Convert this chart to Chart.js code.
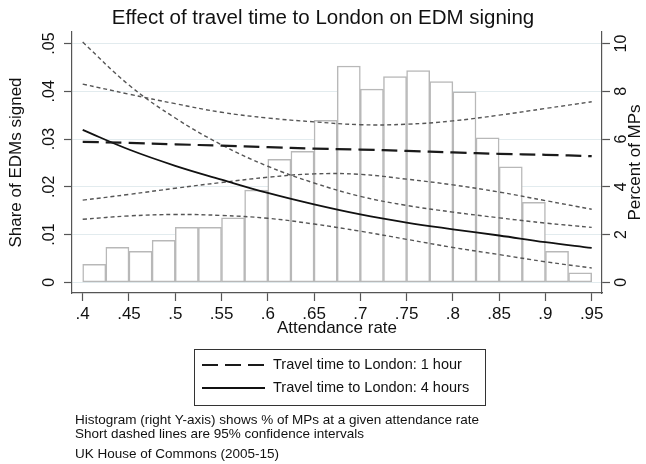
<!DOCTYPE html>
<html><head><meta charset="utf-8">
<script src="https://cdn.jsdelivr.net/npm/chart.js@4.4.1/dist/chart.umd.min.js"></script>
<style>html,body{margin:0;padding:0;background:#fff}#wrap{width:646px;height:464px}</style>
</head><body><div id="wrap"><canvas id="c" width="646" height="464"></canvas></div>
<script>
// ---- data ----
const xGrid = [0.40,0.45,0.50,0.55,0.60,0.65,0.70,0.75,0.80,0.85,0.90,0.95];
const fit1h  = [0.0294,0.0292,0.0289,0.0286,0.0283,0.0280,0.0278,0.0275,0.0272,0.0269,0.0267,0.0264];
const ci1hHi = [0.0415,0.0394,0.0374,0.0356,0.0344,0.0336,0.0330,0.0331,0.0338,0.0350,0.0364,0.0378];
const ci1hLo = [0.0172,0.0184,0.0197,0.0209,0.0220,0.0227,0.0226,0.0216,0.0204,0.0189,0.0171,0.0153];
const fit4h  = [0.0319,0.0278,0.0244,0.0215,0.0187,0.0163,0.0142,0.0125,0.0111,0.0098,0.0084,0.0072];
const ci4hHi = [0.0503,0.0413,0.0344,0.0288,0.0243,0.0208,0.0180,0.0161,0.0147,0.0135,0.0124,0.0115];
const ci4hLo = [0.0132,0.0139,0.0142,0.0140,0.0134,0.0122,0.0107,0.0090,0.0073,0.0058,0.0043,0.0030];
const binCenters = [0.4125,0.4375,0.4625,0.4875,0.5125,0.5375,0.5625,0.5875,0.6125,0.6375,0.6625,
                    0.6875,0.7125,0.7375,0.7625,0.7875,0.8125,0.8375,0.8625,0.8875,0.9125,0.9375];
const histPercent = [0.75,1.46,1.30,1.76,2.30,2.30,2.70,3.86,5.15,5.48,6.78,
                     9.06,8.09,8.62,8.87,8.41,7.98,6.05,4.84,3.35,1.30,0.40];
const xTickValues = [0.40,0.45,0.50,0.55,0.60,0.65,0.70,0.75,0.80,0.85,0.90,0.95];
const xTickLabels = ['.4','.45','.5','.55','.6','.65','.7','.75','.8','.85','.9','.95'];
const yTickValues = [0,0.01,0.02,0.03,0.04,0.05];
const yTickLabels = ['0','.01','.02','.03','.04','.05'];
const y2TickValues = [0,2,4,6,8,10];
const y2TickLabels = ['0','2','4','6','8','10'];
const legendLabels = ['Travel time to London: 1 hour','Travel time to London: 4 hours'];
const notes = ['Histogram (right Y-axis) shows % of MPs at a given attendance rate',
               'Short dashed lines are 95% confidence intervals',
               'UK House of Commons (2005-15)'];

const FONT = "'Liberation Sans', Arial, Helvetica, sans-serif";
Chart.defaults.font.family = FONT;
Chart.defaults.color = '#111';

const xy = (xs, ys) => xs.map((x, i) => ({x: x, y: ys[i]}));
const AX = '#555';
const ciStyle = {type:'line', yAxisID:'y', borderColor:'#555', borderWidth:1.4, borderDash:[4,3],
  pointRadius:0, tension:0.4, fill:false, order:1};

const datasets = [
  {type:'line', label:legendLabels[0], data:xy(xGrid, fit1h), yAxisID:'y', borderColor:'#1a1a1a',
   borderWidth:2.2, borderDash:[16,7], pointRadius:0, tension:0.4, order:0, legend:true},
  {type:'line', label:legendLabels[1], data:xy(xGrid, fit4h), yAxisID:'y', borderColor:'#111',
   borderWidth:1.8, borderDash:[], pointRadius:0, tension:0.4, order:0, legend:true},
  Object.assign({label:'ci1hHi', data:xy(xGrid, ci1hHi)}, ciStyle),
  Object.assign({label:'ci1hLo', data:xy(xGrid, ci1hLo)}, ciStyle),
  Object.assign({label:'ci4hHi', data:xy(xGrid, ci4hHi)}, ciStyle),
  Object.assign({label:'ci4hLo', data:xy(xGrid, ci4hLo)}, ciStyle),
  {type:'bar', label:'Percent of MPs', data:xy(binCenters, histPercent), yAxisID:'y2',
   backgroundColor:'#ffffff', borderColor:'#b8b8b8', borderWidth:1.5, borderSkipped:false,
   barPercentage:1, categoryPercentage:1, order:10}
];

const extras = {
  id:'extras',
  afterDraw(chart) {
    const ctx = chart.ctx, ca = chart.chartArea;
    ctx.save();
    // right axis title (reads bottom-to-top)
    ctx.fillStyle = '#111';
    ctx.font = '17px ' + FONT;
    ctx.textAlign = 'center'; ctx.textBaseline = 'middle';
    ctx.translate(635, (ca.top + ca.bottom) / 2);
    ctx.rotate(-Math.PI / 2);
    ctx.fillText(chart.options.scales.y2.titleText, 0, 0);
    ctx.restore();

    // legend box
    ctx.save();
    ctx.strokeStyle = '#333'; ctx.lineWidth = 1;
    ctx.strokeRect(194.5, 349.5, 291, 56);
    const items = chart.data.datasets.filter(d => d.legend);
    const ys = [365, 388];
    items.forEach((d, i) => {
      ctx.beginPath();
      ctx.setLineDash(d.borderDash || []);
      ctx.strokeStyle = d.borderColor; ctx.lineWidth = d.borderWidth;
      ctx.moveTo(202, ys[i]); ctx.lineTo(265, ys[i]); ctx.stroke();
      ctx.setLineDash([]);
      ctx.fillStyle = '#111'; ctx.font = '14.5px ' + FONT;
      ctx.textAlign = 'left'; ctx.textBaseline = 'middle';
      ctx.fillText(d.label, 273, ys[i]);
    });
    // notes
    ctx.font = '13.5px ' + FONT;
    const ny = [420, 434, 454];
    notes.forEach((t, i) => ctx.fillText(t, 75, ny[i]));
    ctx.restore();
  }
};

new Chart(document.getElementById('c'), {
  type:'bar',
  data:{datasets:datasets},
  plugins:[extras],
  options:{
    responsive:false, animation:false, devicePixelRatio:1,
    layout:{padding:{top:0,left:0,right:0,bottom:128}},
    plugins:{
      legend:{display:false}, tooltip:{enabled:false},
      title:{display:true, text:'Effect of travel time to London on EDM signing', color:'#111',
        font:{size:20.5, weight:'normal', lineHeight:1.2}, padding:{top:6,bottom:1.4}}
    },
    scales:{
      x:{type:'linear', min:0.38844, max:0.96113, offset:false,
        afterBuildTicks:s => { s.ticks = xTickValues.map(v => ({value:v})); },
        afterFit:s => { s.height = 43; },
        ticks:{autoSkip:false, minRotation:0, maxRotation:0, padding:3, font:{size:17}, color:'#111',
          callback:(v, i) => xTickLabels[i]},
        grid:{drawOnChartArea:false, drawTicks:true, tickLength:8, tickColor:AX, tickWidth:1.2, offset:false},
        border:{display:true, color:AX, width:1.2},
        title:{display:true, text:'Attendance rate', color:'#111', font:{size:17, lineHeight:1}, padding:{top:0,bottom:-1}}
      },
      y:{type:'linear', position:'left', min:-0.00224, max:0.05241,
        afterBuildTicks:s => { s.ticks = yTickValues.map(v => ({value:v})); },
        afterFit:s => { s.width = 72; },
        ticks:{autoSkip:false, minRotation:90, maxRotation:90, crossAlign:'center', padding:3,
          font:{size:16}, color:'#111', callback:(v, i) => yTickLabels[i]},
        grid:{color:'#e2ebee', lineWidth:1, drawTicks:true, tickLength:8, tickColor:AX, tickWidth:1.2},
        border:{display:true, color:AX, width:1.2},
        title:{display:true, text:'Share of EDMs signed', color:'#111', font:{size:17, lineHeight:1.2}, padding:{top:6,bottom:0}}
      },
      y2:{type:'linear', position:'right', min:-0.448, max:10.482, titleText:'Percent of MPs',
        afterBuildTicks:s => { s.ticks = y2TickValues.map(v => ({value:v})); },
        afterFit:s => { s.width = 44; },
        ticks:{autoSkip:false, minRotation:90, maxRotation:90, crossAlign:'center', padding:3,
          font:{size:16}, color:'#111', callback:(v, i) => y2TickLabels[i]},
        grid:{drawOnChartArea:false, drawTicks:true, tickLength:8, tickColor:AX, tickWidth:1.2},
        border:{display:true, color:AX, width:1.2},
        title:{display:false}
      }
    }
  }
});
</script></body></html>
